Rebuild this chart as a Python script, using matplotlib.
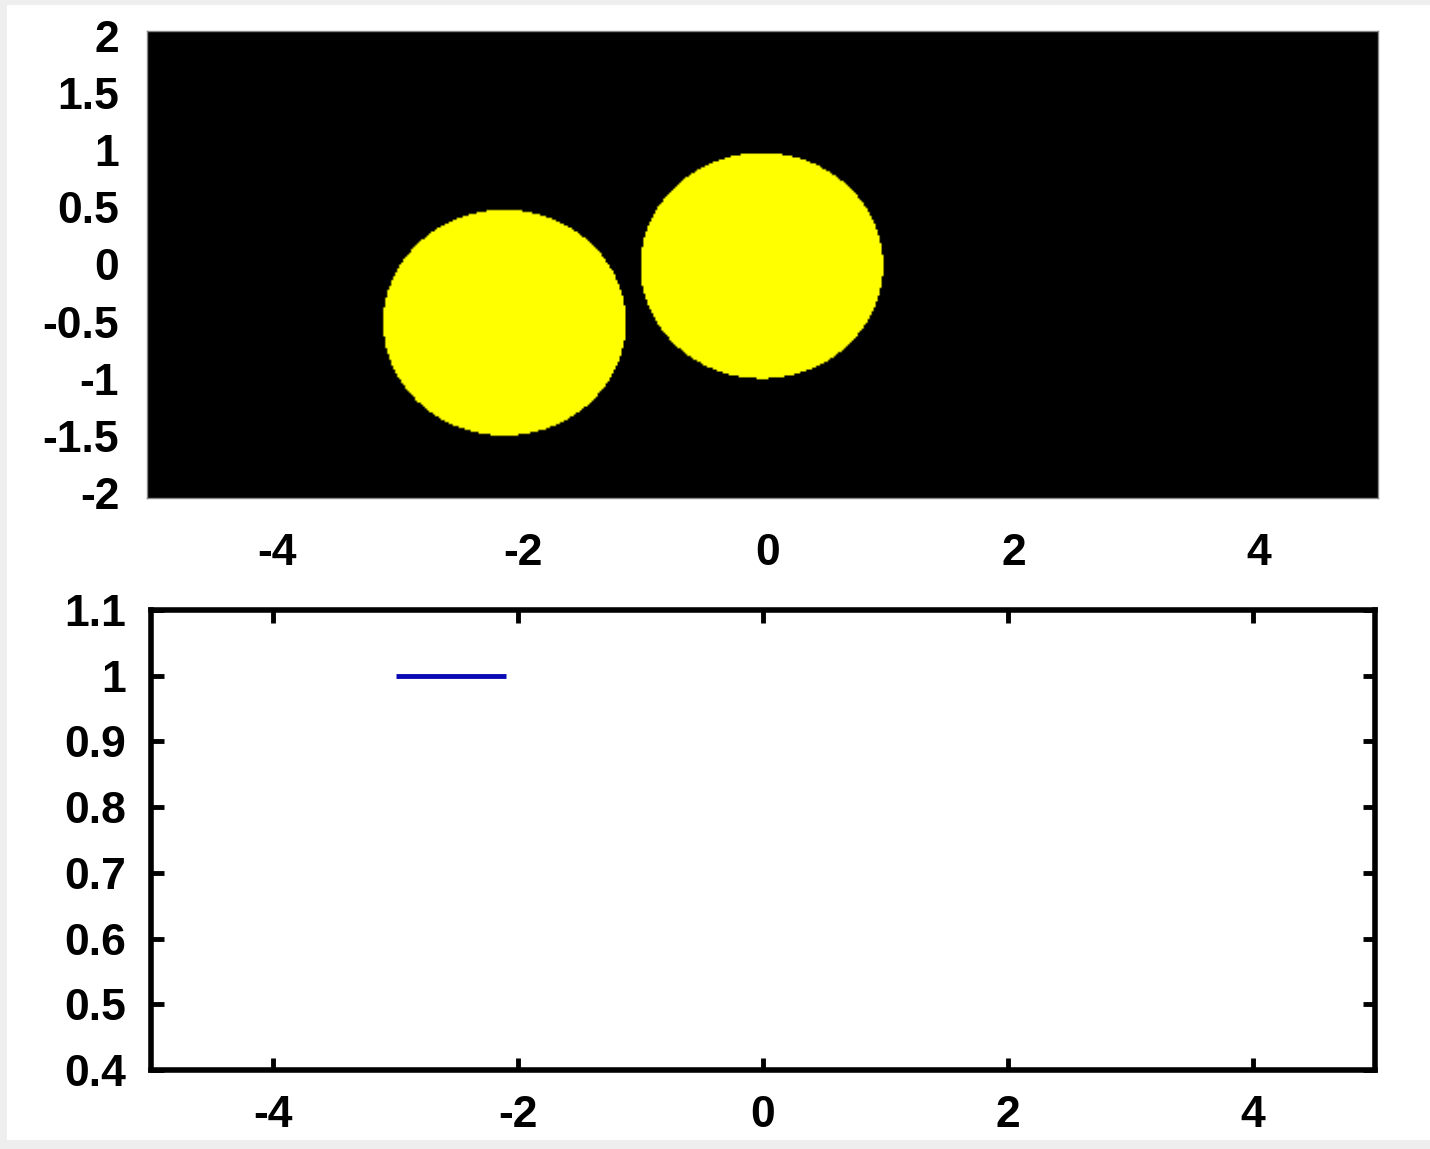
import numpy as np
import matplotlib
matplotlib.use("Agg")
import matplotlib.pyplot as plt
from matplotlib.patches import Rectangle

# Disk positions and radius (upper panel, rendered as a raster field)
disk_x = [-2.15, -0.05]
disk_y = [-0.51, -0.01]
disk_r = [0.99, 0.99]

# Line segment in the lower panel
seg_x = [-3.0, -2.1]
seg_y = [1.0, 1.0]

top_xticks = [-4, -2, 0, 2, 4]
top_yticks = [-2, -1.5, -1, -0.5, 0, 0.5, 1, 1.5, 2]
top_yticklabels = ["-2", "-1.5", "-1", "-0.5", "0", "0.5", "1", "1.5", "2"]
bot_xticks = [-4, -2, 0, 2, 4]
bot_yticks = [0.4, 0.5, 0.6, 0.7, 0.8, 0.9, 1.0, 1.1]
bot_yticklabels = ["0.4", "0.5", "0.6", "0.7", "0.8", "0.9", "1", "1.1"]

W, H = 1430, 1149
plt.rcParams["font.family"] = ["Liberation Sans", "DejaVu Sans"]
plt.rcParams["font.weight"] = "bold"
fig = plt.figure(figsize=(W / 100, H / 100), dpi=100, facecolor="#eeeeee")
fig.add_artist(Rectangle((7 / W, 9 / H), 1 - 7 / W, 1 - 14 / H,
                         transform=fig.transFigure, facecolor="white",
                         edgecolor="none", zorder=-10))

def fx(px):
    return px / W

def fy(py):
    return 1 - py / H

FS = 32

# ---- upper panel: black field with two yellow disks ----
xlim_t = (-5.06, 4.97)
ylim_t = (-2.04, 2.04)
ax1 = fig.add_axes([fx(147), fy(498), fx(1378) - fx(147), fy(31) - fy(498)])
nx, ny = 620, 240
gx = np.linspace(xlim_t[0], xlim_t[1], nx)
gy = np.linspace(ylim_t[0], ylim_t[1], ny)
GX, GY = np.meshgrid(gx, gy)
field = np.zeros_like(GX)
for cx, cy, r in zip(disk_x, disk_y, disk_r):
    field[(GX - cx) ** 2 + (GY - cy) ** 2 <= r ** 2] = 1.0
img = np.zeros(field.shape + (3,))
img[..., 0] = field
img[..., 1] = field
ax1.imshow(img, origin="lower", extent=[*xlim_t, *ylim_t],
           interpolation="bilinear", aspect="auto")
ax1.set_xlim(*xlim_t)
ax1.set_ylim(*ylim_t)
ax1.set_xticks(top_xticks)
ax1.set_xticklabels([str(t) for t in top_xticks])
ax1.set_yticks(top_yticks)
ax1.set_yticklabels(top_yticklabels)
ax1.tick_params(length=0, labelsize=FS)
ax1.tick_params(axis="x", pad=25)
ax1.tick_params(axis="y", pad=20)
for s in ax1.spines.values():
    s.set_linewidth(1)
    s.set_color("#888888")

# ---- lower panel: line segment ----
ax2 = fig.add_axes([fx(151), fy(1070), fx(1375) - fx(151), fy(610) - fy(1070)])
ax2.plot(seg_x, seg_y, color="#0a0ab4", lw=3.5, solid_capstyle="butt")
ax2.set_xlim(-5, 5)
ax2.set_ylim(0.4, 1.1)
ax2.set_xticks(bot_xticks)
ax2.set_xticklabels([str(t) for t in bot_xticks])
ax2.set_yticks(bot_yticks)
ax2.set_yticklabels(bot_yticklabels)
ax2.tick_params(direction="in", length=9, width=3.5, labelsize=FS,
                top=True, right=True)
ax2.tick_params(axis="x", pad=18)
ax2.tick_params(axis="y", pad=18)
for s in ax2.spines.values():
    s.set_linewidth(4)

fig.savefig("out.png", dpi=100, facecolor=fig.get_facecolor())
